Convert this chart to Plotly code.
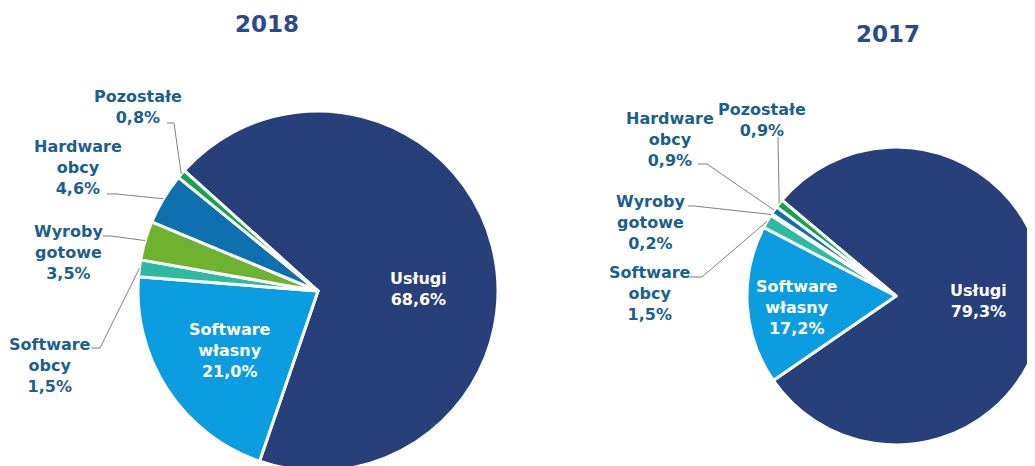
import math
import plotly.graph_objects as go

# figure size (the page shows the top-left 1035x466 area, offset by the 8px body margin)
WF, HF = 1060, 490
OFF = 8

categories = ["Usługi", "Software własny", "Software obcy", "Wyroby gotowe", "Hardware obcy", "Pozostałe"]
values_2018 = [68.6, 21.0, 1.5, 3.5, 4.6, 0.8]
values_2017 = [79.3, 17.2, 1.5, 0.2, 0.9, 0.9]
years = ["2018", "2017"]

colors = ["#27407a", "#0b9ddf", "#2db9a2", "#6fb22f", "#0f70b0", "#17a24d"]
label_color = "#1d5f8c"
title_color = "#2b4a8c"
FONT = "DejaVu Sans"

# pie geometry (screen pixels): center x, center y, radius, rotation
pies = {
    "2018": dict(cx=318, cy=291, r=180, rot=-48, values=values_2018),
    "2017": dict(cx=896, cy=296, r=149, rot=-50, values=values_2017),
}

# label layout (screen pixel positions of text blocks and leader elbows)
outside = {
    "2018": {
        "Pozostałe": dict(tx=138, ty=107, path=[(167, 123), (174, 123)]),
        "Hardware obcy": dict(tx=78, ty=168, path=[(107, 194), (116, 194)]),
        "Wyroby gotowe": dict(tx=68, ty=252, path=[(103, 236), (111, 236)]),
        "Software obcy": dict(tx=50, ty=365, path=[(91, 348), (100, 348)]),
    },
    "2017": {
        "Pozostałe": dict(tx=762, ty=120, path=[(778, 137)]),
        "Hardware obcy": dict(tx=670, ty=139, path=[(698, 164), (707, 164)]),
        "Wyroby gotowe": dict(tx=650, ty=223, path=[(688, 206), (694, 206)]),
        "Software obcy": dict(tx=650, ty=293, path=[(690, 277), (702, 277)]),
    },
}
inside = {
    "2018": {"Usługi": (418, 289), "Software własny": (230, 350)},
    "2017": {"Usługi": (978, 301), "Software własny": (797, 307)},
}
title_pos = {"2018": (267, 24), "2017": (888, 34)}


def px(x):
    return (x - OFF) / WF


def py(y):
    return 1 - (y - OFF) / HF


def fmt(name, v):
    return name.replace(" ", "<br>") + "<br>" + f"{v:.1f}".replace(".", ",") + "%"


fig = go.Figure()
annotations = []
shapes = []

for year in years:
    p = pies[year]
    cx, cy, r = p["cx"], p["cy"], p["r"]
    fig.add_trace(go.Pie(
        labels=categories,
        values=p["values"],
        sort=False,
        direction="clockwise",
        rotation=p["rot"],
        marker=dict(colors=colors, line=dict(color="white", width=3)),
        textinfo="none",
        hoverinfo="label+percent",
        showlegend=False,
        domain=dict(x=[px(cx - r), px(cx + r)], y=[max(0.0, py(cy + r)), py(cy - r)]),
    ))
    tx, ty = title_pos[year]
    annotations.append(dict(x=px(tx), y=py(ty), xref="paper", yref="paper", text=f"<b>{year}</b>",
                            showarrow=False, xanchor="center", yanchor="middle",
                            font=dict(family=FONT, size=23, color=title_color)))
    total = sum(p["values"])
    cum = 0.0
    for name, v in zip(categories, p["values"]):
        mid = (cum + v / 2) / total * 360 + p["rot"]
        cum += v
        a = math.radians(mid)
        ex, ey = cx + r * math.sin(a), cy - r * math.cos(a)
        if name in outside[year]:
            o = outside[year][name]
            annotations.append(dict(x=px(o["tx"]), y=py(o["ty"]), xref="paper", yref="paper",
                                    text="<b>" + fmt(name, v) + "</b>", showarrow=False,
                                    xanchor="center", yanchor="middle", align="center",
                                    font=dict(family=FONT, size=16, color=label_color)))
            pts = o["path"] + [(ex, ey)]
            d = "M " + " L ".join(f"{px(x):.5f},{py(y):.5f}" for x, y in pts)
            shapes.append(dict(type="path", path=d, xref="paper", yref="paper",
                               line=dict(color="#7f7f7f", width=1)))
        elif name in inside[year]:
            ix, iy = inside[year][name]
            annotations.append(dict(x=px(ix), y=py(iy), xref="paper", yref="paper",
                                    text="<b>" + fmt(name, v) + "</b>", showarrow=False,
                                    xanchor="center", yanchor="middle", align="center",
                                    font=dict(family=FONT, size=16, color="white")))

fig.update_layout(
    width=WF, height=HF,
    margin=dict(l=0, r=0, t=0, b=0),
    paper_bgcolor="white",
    plot_bgcolor="white",
    annotations=annotations,
    shapes=shapes,
)

fig.write_html("out.html")
